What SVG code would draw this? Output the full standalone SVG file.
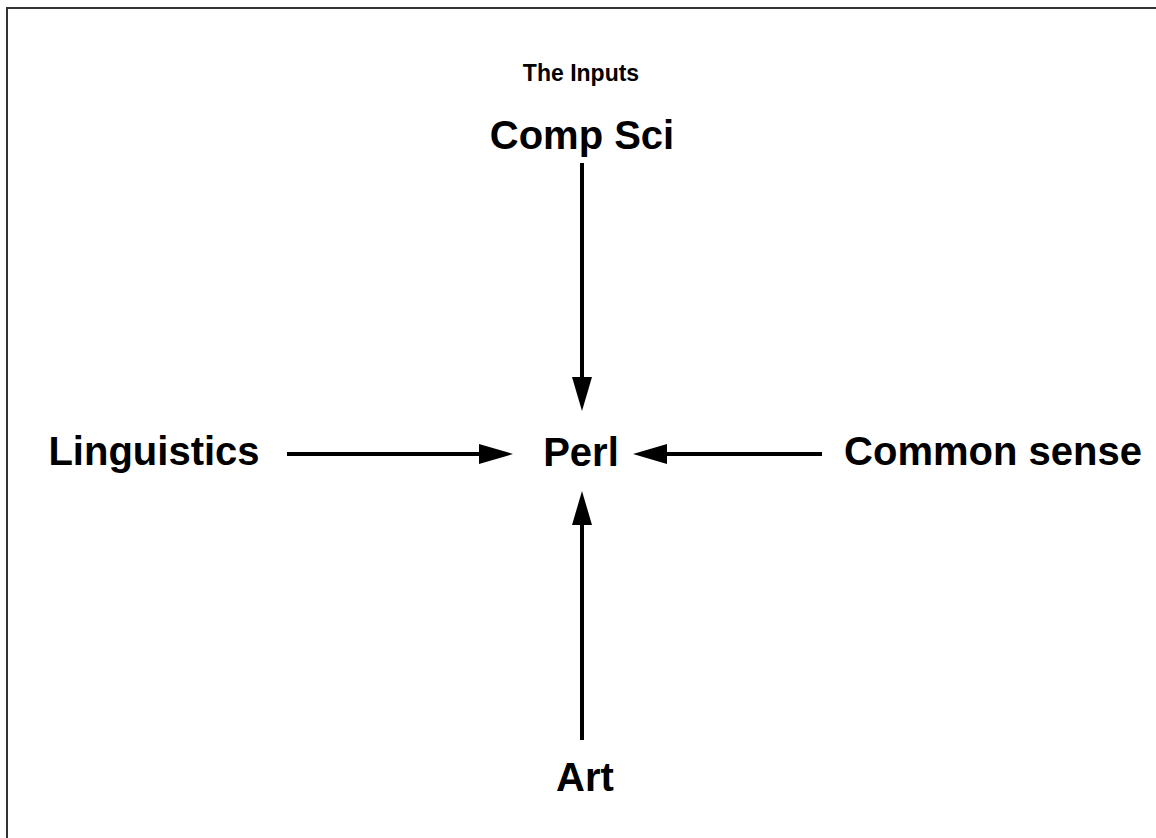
<svg xmlns="http://www.w3.org/2000/svg" width="1156" height="838" viewBox="0 0 1156 838">
  <style>
    .label { font-family: "Liberation Sans", Arial, sans-serif; font-weight: bold; fill: #000; text-anchor: middle; }
    .big { font-size: 40px; }
    .title { font-size: 23px; }
    .edge { stroke: #000; stroke-width: 4; fill: none; }
  </style>
  <defs>
    <!-- filled arrowhead; shafts stop at its base -->
    <marker id="arrow" viewBox="0 0 34 20" refX="0" refY="10" markerWidth="34" markerHeight="20" markerUnits="userSpaceOnUse" orient="auto">
      <path d="M0,0 L34,10 L0,20 Z" fill="#000"/>
    </marker>
  </defs>
  <rect width="1156" height="838" fill="#fff"/>
  <!-- page frame -->
  <rect x="7" y="8" width="1160" height="850" fill="none" stroke="#333" stroke-width="2"/>

  <text id="title" class="label title" x="581" y="81">The Inputs</text>

  <g id="connectors">
    <line class="edge" x1="582" y1="163" x2="582" y2="377" marker-end="url(#arrow)"/>
    <line class="edge" x1="287" y1="454" x2="479" y2="454" marker-end="url(#arrow)"/>
    <line class="edge" x1="822" y1="454" x2="667" y2="454" marker-end="url(#arrow)"/>
    <line class="edge" x1="582" y1="740" x2="582" y2="525" marker-end="url(#arrow)"/>
  </g>

  <g id="node-compsci"><text class="label big" x="582" y="149">Comp Sci</text></g>
  <g id="node-linguistics"><text class="label big" x="154" y="465">Linguistics</text></g>
  <g id="node-perl"><text class="label big" x="581" y="466">Perl</text></g>
  <g id="node-common"><text class="label big" x="993" y="465">Common sense</text></g>
  <g id="node-art"><text class="label big" x="585" y="791">Art</text></g>
</svg>
